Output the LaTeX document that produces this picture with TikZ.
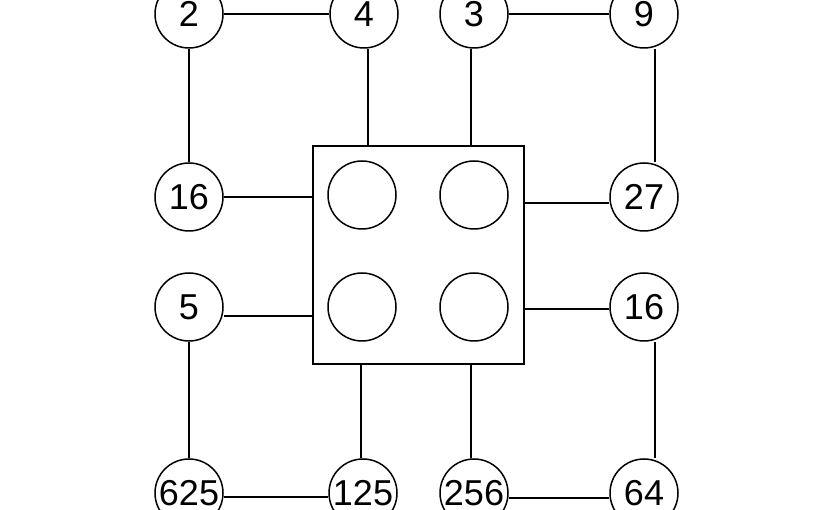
\documentclass[tikz,border=0pt]{standalone}
\usepackage{fontspec}
\setmainfont{Liberation Sans}
\begin{document}
\begin{tikzpicture}[x=1pt,y=-1pt,line width=1.5pt,
  num/.style={draw,circle,minimum size=68pt,inner sep=0pt,font=\fontsize{36}{38}\selectfont},
  hole/.style={draw,circle,minimum size=68pt,inner sep=0pt}]
\useasboundingbox (0,0) rectangle (825,510);
\node[draw,minimum width=211pt,minimum height=218pt,inner sep=0pt] (sq) at (418.5,255) {};
\node[hole] (h1) at (362,195) {};
\node[hole] (h2) at (474,195) {};
\node[hole] (h3) at (362,307) {};
\node[hole] (h4) at (474,307) {};
\node[num] (a) at (189,14) {2};
\node[num] (b) at (364,14) {4};
\node[num] (c) at (474,14) {3};
\node[num] (d) at (644,14) {9};
\node[num] (e) at (189,197) {16};
\node[num] (f) at (644,197) {27};
\node[num] (g) at (189,307) {5};
\node[num] (h) at (644,307) {16};
\node[num] (i) at (189,493) {625};
\node[num] (j) at (363,493) {125};
\node[num] (k) at (474,493) {256};
\node[num] (l) at (644,493) {64};
\draw (a) -- (b); \draw (c) -- (d);
\draw (a) -- (e); \draw (g) -- (i);
\draw ([yshift=-4pt]i.east) -- ([yshift=-4pt]j.west);
\draw ([yshift=-5pt]k.east) -- ([yshift=-5pt]l.west);
\draw ([xshift=11pt]d.south) -- ([xshift=11pt]f.north);
\draw ([xshift=11pt]l.north) -- ([xshift=11pt]h.south);
\draw ([xshift=4pt]b.south) -- ([xshift=4pt]b.south |- sq.north);
\draw ([xshift=-3pt]c.south) -- ([xshift=-3pt]c.south |- sq.north);
\draw ([xshift=-2pt]j.north) -- ([xshift=-2pt]j.north |- sq.south);
\draw ([xshift=-3pt]k.north) -- ([xshift=-3pt]k.north |- sq.south);
\draw (e.east) -- (e.east -| sq.west);
\draw ([yshift=-9pt]g.east) -- ([yshift=-9pt]g.east -| sq.west);
\draw ([yshift=-6pt]f.west) -- ([yshift=-6pt]f.west -| sq.east);
\draw ([yshift=-2pt]h.west) -- ([yshift=-2pt]h.west -| sq.east);
\end{tikzpicture}
\end{document}
